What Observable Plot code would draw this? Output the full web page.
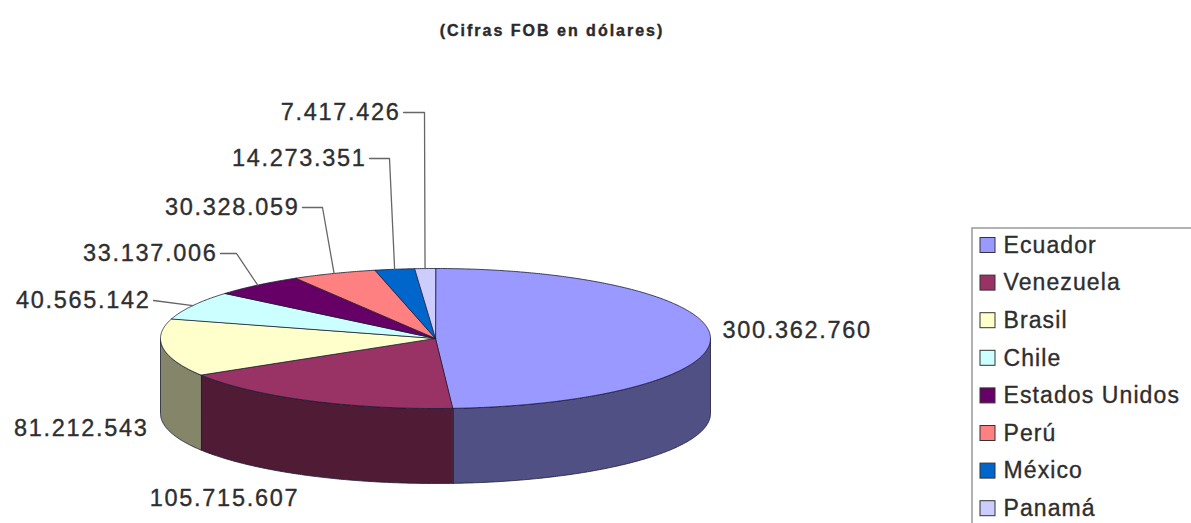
<!DOCTYPE html>
<html><head><meta charset="utf-8">
<script src="https://cdn.jsdelivr.net/npm/d3@7"></script>
<script src="https://cdn.jsdelivr.net/npm/@observablehq/plot@0.6"></script>
<style>
body{margin:0;background:#fff;font-family:"Liberation Sans",Arial,sans-serif;}
#title{height:56px;width:1191px;position:relative;}
#title span{position:absolute;left:0;width:1104px;text-align:center;top:22px;font-weight:bold;font-size:16px;letter-spacing:2px;color:#2a2a2a;font-family:"Liberation Sans",Arial,sans-serif;-webkit-text-stroke:0.4px #2a2a2a;}
</style></head><body>
<div id="title"><span>(Cifras FOB en dólares)</span></div>
<div id="chart"></div>
<script>
// ---- data ----
const countries = ["Ecuador","Venezuela","Brasil","Chile","Estados Unidos","Perú","México","Panamá"];
const values = [300362760,105715607,81212543,40565142,33137006,30328059,14273351,7417426];
const topColors = ["#9999ff","#993366","#ffffcc","#ccffff","#660066","#ff8080","#0066cc","#ccccff"];

// ---- layout ----
const W = 1191, H = 467;
const cx = 435, cy = 282, rx = 275, ry = 70, depth = 75;
const sideFactor = 0.52;
// label placement (text anchor point), optional leader corner x
const labelLayout = [
  {x:722, y:274, anchor:"start"},
  {x:224, y:442, anchor:"middle"},
  {x:148, y:372, anchor:"end"},
  {x:150, y:244, anchor:"end", corner:153},
  {x:217, y:197, anchor:"end", corner:236},
  {x:299, y:151, anchor:"end", corner:322},
  {x:366, y:102, anchor:"end", corner:389},
  {x:400, y:56, anchor:"end", corner:424}
];

const fmt = d3.formatLocale({decimal:",", thousands:".", grouping:[3], currency:["$",""]}).format(",");
const arcs = d3.pie().sort(null).value(d => d)(values);
const pt = (a, dz=0) => ({x: cx + rx*Math.sin(a), y: cy - ry*Math.cos(a) + dz});
const sample = (a0, a1) => {
  const n = Math.max(2, Math.ceil(Math.abs(a1-a0)/(Math.PI/360)));
  return d3.range(n+1).map(k => a0 + (a1-a0)*k/n);
};
const sideColor = c => { const r = d3.rgb(c); return d3.rgb(r.r*sideFactor, r.g*sideFactor, r.b*sideFactor).formatHex(); };

const sides = [], tops = [];
arcs.forEach((a, i) => {
  const s = Math.max(a.startAngle, Math.PI/2), e = Math.min(a.endAngle, 3*Math.PI/2);
  if (s < e) {
    const up = sample(s, e).map(t => pt(t));
    const dn = sample(e, s).map(t => pt(t, depth));
    [...up, ...dn].forEach(p => sides.push({...p, id: i, fill: sideColor(topColors[i])}));
  }
  tops.push({x: cx, y: cy, id: i, fill: topColors[i]});
  sample(a.startAngle, a.endAngle).forEach(t => tops.push({...pt(t), id: i, fill: topColors[i]}));
});

const labels = arcs.map((a, i) => ({...labelLayout[i], text: fmt(values[i]), mid: (a.startAngle + a.endAngle)/2, i}));
const leaders = [];
labels.filter(l => l.corner !== undefined).forEach(l => {
  const e = pt(l.mid);
  leaders.push({x: l.x + 3, y: l.y, id: l.i});
  leaders.push({x: l.corner, y: l.y, id: l.i});
  leaders.push({x: e.x, y: e.y, id: l.i});
});

const legendTop = 189, legendStep = 37.6;
const legend = countries.map((c, i) => ({name: c, color: topColors[i], y: legendTop + i*legendStep}));

const textStyle = {fontSize: 23.5, fill: "#2e2e2e", stroke: "#2e2e2e", strokeWidth: 0.35};
const chart = Plot.plot({
  width: W, height: H, margin: 0,
  x: {type: "identity", axis: null},
  y: {type: "identity", axis: null},
  color: {type: "identity"},
  style: {fontFamily: "'Liberation Sans', Arial, sans-serif", letterSpacing: "1.7px", background: "#fff"},
  marks: [
    Plot.line(sides, {x: "x", y: "y", z: "id", fill: "fill", stroke: "#1a1a33", strokeWidth: 0.8, curve: "linear-closed"}),
    Plot.line(tops, {x: "x", y: "y", z: "id", fill: "fill", stroke: "#1a1a33", strokeWidth: 0.8, curve: "linear-closed"}),
    Plot.line(leaders, {x: "x", y: "y", z: "id", stroke: "#666", strokeWidth: 1.3}),
    Plot.text(labels.filter(l => l.anchor === "start"), {x: "x", y: "y", text: "text", textAnchor: "start", ...textStyle}),
    Plot.text(labels.filter(l => l.anchor === "middle"), {x: "x", y: "y", text: "text", textAnchor: "middle", ...textStyle}),
    Plot.text(labels.filter(l => l.anchor === "end"), {x: "x", y: "y", text: "text", textAnchor: "end", ...textStyle}),
    // legend
    Plot.rect([{x1: 972, x2: W + 10, y1: 172, y2: H + 10}], {x1: "x1", x2: "x2", y1: "y1", y2: "y2", fill: "none", stroke: "#999", strokeWidth: 1.5}),
    Plot.rect(legend, {x1: 980, x2: 995, y1: d => d.y - 7.5, y2: d => d.y + 7.5, fill: "color", stroke: "#333", strokeWidth: 1}),
    Plot.text(legend, {x: 1003, y: "y", text: "name", textAnchor: "start", ...textStyle, fontSize: 23, style: "letter-spacing:1.1px"})
  ]
});
chart.querySelectorAll("g[aria-label=text]").forEach((g, k, all) => { if (k === all.length - 1) g.setAttribute("letter-spacing", "1.1px"); });
document.getElementById("chart").appendChild(chart);
</script>
</body></html>
